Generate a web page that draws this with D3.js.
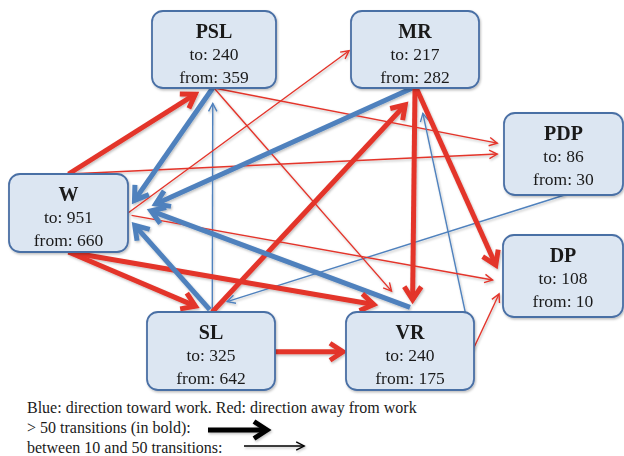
<!DOCTYPE html>
<html>
<head>
<meta charset="utf-8">
<script src="https://cdn.jsdelivr.net/npm/d3@7"></script>
<style>
  body { margin: 0; background: #fff; }
  svg { display: block; }
  text { font-family: "Liberation Serif", "Times New Roman", serif; fill: #1a1a1a; }
</style>
</head>
<body>
<script>
// Node data
var nodeNames = ["PSL", "MR", "PDP", "W", "DP", "SL", "VR"];
var nodeTo = [240, 217, 86, 951, 108, 325, 240];
var nodeFrom = [359, 282, 30, 660, 10, 642, 175];

// Edge data (blue = toward work, red = away from work)
var edgeSource = ["W", "PSL", "SL", "PSL", "W", "W", "MR", "SL", "MR", "MR", "VR", "PDP", "VR", "W", "PSL", "W", "W", "SL", "SL", "VR"];
var edgeTarget = ["PSL", "W", "PSL", "PDP", "MR", "PDP", "W", "MR", "VR", "DP", "MR", "SL", "W", "DP", "VR", "SL", "VR", "W", "VR", "DP"];
var edgeToward = [false, true, true, false, false, false, true, false, false, false, true, true, true, false, false, false, false, true, false, false];
var edgeBold = [true, true, false, false, false, false, true, true, true, true, false, false, true, false, false, true, true, true, true, false];

// Legend text
var legendLines = ["Blue: direction toward work. Red: direction away from work",
                   "> 50 transitions (in bold):",
                   "between 10 and 50 transitions:"];

// Layout: boxes (x, y, w, h) and edge anchors as fractions of the boxes
var boxLayout = {
  PSL: [152, 11, 124, 77],
  MR:  [351, 11, 128, 77],
  PDP: [504, 113, 119, 82],
  W:   [9, 174, 119, 78],
  DP:  [503, 235, 120, 82],
  SL:  [147, 312, 128, 78],
  VR:  [346, 312, 128, 78]
};
var edgeAnchors = [
  [0.50, 0.00, 0.37, 1.06],
  [0.49, 1.00, 1.04, 0.37],
  [0.51, 0.00, 0.49, 1.19],
  [0.50, 1.00, -0.05, 0.37],
  [1.00, 0.50, -0.01, 0.51],
  [0.50, 0.00, -0.05, 0.50],
  [0.48, 1.00, 1.21, 0.40],
  [0.51, 0.00, 0.44, 1.19],
  [0.50, 1.00, 0.52, -0.12],
  [0.51, 1.00, -0.05, 0.40],
  [0.99, 0.45, 0.56, 1.32],
  [0.51, 1.00, 0.62, -0.13],
  [0.50, -0.06, 1.17, 0.46],
  [1.03, 0.53, -0.08, 0.55],
  [0.50, 1.00, 0.36, -0.26],
  [0.50, 1.00, 0.40, -0.06],
  [0.50, 1.00, 0.24, -0.09],
  [0.49, -0.03, 1.04, 0.63],
  [1.00, 0.51, 0.00, 0.51],
  [0.99, 0.49, -0.03, 0.71]
];

var width = 624, height = 456;
var red = "#e3342a", blue = "#4f81bd";

var svg = d3.select("body").append("svg")
  .attr("width", width)
  .attr("height", height);

var defs = svg.append("defs");
var shadow = defs.append("filter").attr("id", "shadow")
  .attr("x", "-20%").attr("y", "-20%").attr("width", "140%").attr("height", "140%");
shadow.append("feDropShadow")
  .attr("dx", 1).attr("dy", 1.5).attr("stdDeviation", 1.2)
  .attr("flood-color", "#000").attr("flood-opacity", 0.25);

function anchorPoint(name, fx, fy) {
  var b = boxLayout[name];
  return [b[0] + fx * b[2], b[1] + fy * b[3]];
}

// draw one arrow (shaft + chevron head)
function drawArrow(g, p0, p1, color, bold) {
  var sw = bold ? 5 : 1.4,
      L = bold ? 13 : 8,
      W = bold ? 8.5 : 4.2;
  var ang = Math.atan2(p1[1] - p0[1], p1[0] - p0[0]);
  var back = bold ? 3 : 0.8;
  var end = [p1[0] - back * Math.cos(ang), p1[1] - back * Math.sin(ang)];
  g.append("line")
    .attr("x1", p0[0]).attr("y1", p0[1])
    .attr("x2", end[0]).attr("y2", end[1])
    .attr("stroke", color)
    .attr("stroke-width", sw);
  g.append("path")
    .attr("transform", "translate(" + end[0] + "," + end[1] + ") rotate(" + (ang * 180 / Math.PI) + ")")
    .attr("d", "M" + (-L) + "," + (-W) + "L0,0L" + (-L) + "," + W)
    .attr("fill", "none")
    .attr("stroke", color)
    .attr("stroke-width", sw)
    .attr("stroke-linejoin", "miter")
    .attr("stroke-linecap", "butt");
}

// Edges
var edgeG = svg.append("g").attr("filter", "url(#shadow)");
var order = d3.range(edgeSource.length).sort(function (a, b) { return edgeBold[a] - edgeBold[b]; });
order.forEach(function (i) {
  var a = edgeAnchors[i];
  var p0 = anchorPoint(edgeSource[i], a[0], a[1]);
  var p1 = anchorPoint(edgeTarget[i], a[2], a[3]);
  drawArrow(edgeG.append("g"), p0, p1, edgeToward[i] ? blue : red, edgeBold[i]);
});

// Nodes
var nodes = svg.selectAll(".node")
  .data(nodeNames)
  .enter()
  .append("g")
  .attr("class", "node")
  .attr("transform", function (d) { return "translate(" + boxLayout[d][0] + "," + boxLayout[d][1] + ")"; });

nodes.append("rect")
  .attr("width", function (d) { return boxLayout[d][2]; })
  .attr("height", function (d) { return boxLayout[d][3]; })
  .attr("rx", 11).attr("ry", 11)
  .attr("fill", "#dce6f2")
  .attr("stroke", "#4a6fa5")
  .attr("stroke-width", 1.8)
  .attr("filter", "url(#shadow)");

nodes.append("text")
  .attr("x", function (d) { return boxLayout[d][2] / 2; })
  .attr("y", 27)
  .attr("text-anchor", "middle")
  .style("font-size", "20px")
  .style("font-weight", "bold")
  .text(function (d) { return d; });

nodes.append("text")
  .attr("x", function (d) { return boxLayout[d][2] / 2; })
  .attr("y", 49)
  .attr("text-anchor", "middle")
  .style("font-size", "17.5px")
  .text(function (d, i) { return "to: " + nodeTo[i]; });

nodes.append("text")
  .attr("x", function (d) { return boxLayout[d][2] / 2; })
  .attr("y", 72)
  .attr("text-anchor", "middle")
  .style("font-size", "17.5px")
  .text(function (d, i) { return "from: " + nodeFrom[i]; });

// Legend
var legend = svg.append("g");
legend.selectAll("text")
  .data(legendLines)
  .enter()
  .append("text")
  .attr("x", 27)
  .attr("y", function (d, i) { return 413 + i * 20; })
  .style("font-size", "16px")
  .text(function (d) { return d; });

var legendArrows = legend.append("g").attr("filter", "url(#shadow)");
drawArrow(legendArrows, [208, 430], [270, 430], "#000", true);
drawArrow(legendArrows, [244, 446], [305, 446], "#000", false);
</script>
</body>
</html>
